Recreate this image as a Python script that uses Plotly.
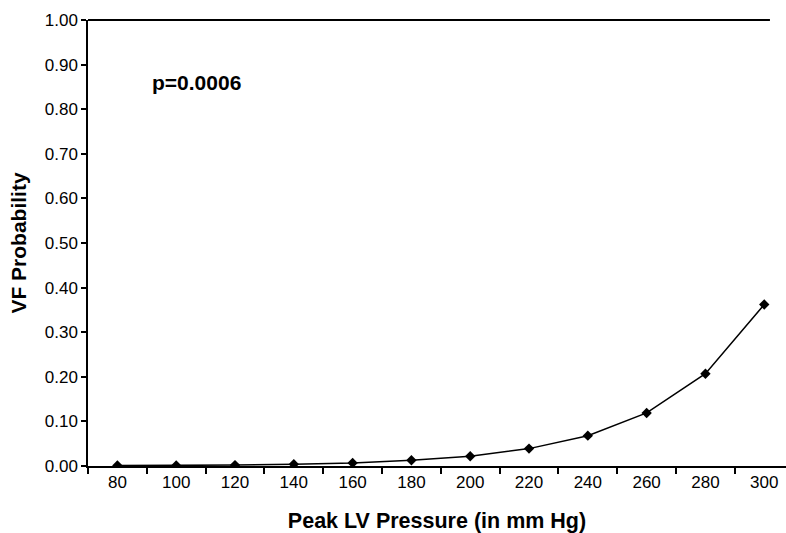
import plotly.graph_objects as go

pressure = ["80", "100", "120", "140", "160", "180", "200", "220", "240", "260", "280", "300"]
vf_prob = [0.001, 0.001, 0.002, 0.004, 0.007, 0.013, 0.022, 0.039, 0.068, 0.119, 0.207, 0.362]
y_ticks = [i / 10 for i in range(11)]
y_tick_text = ["%.2f" % v for v in y_ticks]

FONT = "Liberation Sans, Arial, sans-serif"

fig = go.Figure()
fig.add_trace(go.Scatter(
    x=pressure, y=vf_prob, mode="lines+markers",
    line=dict(color="black", width=1.5),
    marker=dict(symbol="diamond", size=8, color="black"),
    showlegend=False,
))

fig.update_layout(
    width=786, height=533,
    margin=dict(l=88, r=0, t=20, b=67),
    paper_bgcolor="white", plot_bgcolor="white",
    font=dict(family=FONT, color="black", size=17),
    xaxis=dict(
        type="category", range=[-0.5, 11.37],
        tickson="boundaries", ticks="outside", ticklen=6, tickwidth=1.5, tickcolor="black",
        showline=True, linecolor="black", linewidth=2,
        showgrid=False, zeroline=False,
        tickfont=dict(size=17, family=FONT),
        title=dict(text="<b>Peak LV Pressure (in mm Hg)</b>", font=dict(size=21.5, family=FONT), standoff=22),
    ),
    yaxis=dict(
        range=[0, 1.0], tickvals=y_ticks, ticktext=y_tick_text,
        ticks="outside", ticklen=5, tickwidth=1.5, tickcolor="black",
        showline=True, linecolor="black", linewidth=1.5,
        showgrid=False, zeroline=False,
        tickfont=dict(size=17, family=FONT),
        title=dict(text="<b>VF Probability</b>", font=dict(size=21, family=FONT), standoff=12),
    ),
    shapes=[dict(type="line", xref="paper", yref="paper", x0=0, x1=0.977, y0=1, y1=1,
                 line=dict(color="black", width=2))],
    annotations=[dict(text="<b>p=0.0006</b>", xref="paper", yref="paper", x=0.089, y=0.86,
                      xanchor="left", yanchor="middle", showarrow=False,
                      font=dict(size=21, family=FONT))],
)

fig.write_html("out.html")
